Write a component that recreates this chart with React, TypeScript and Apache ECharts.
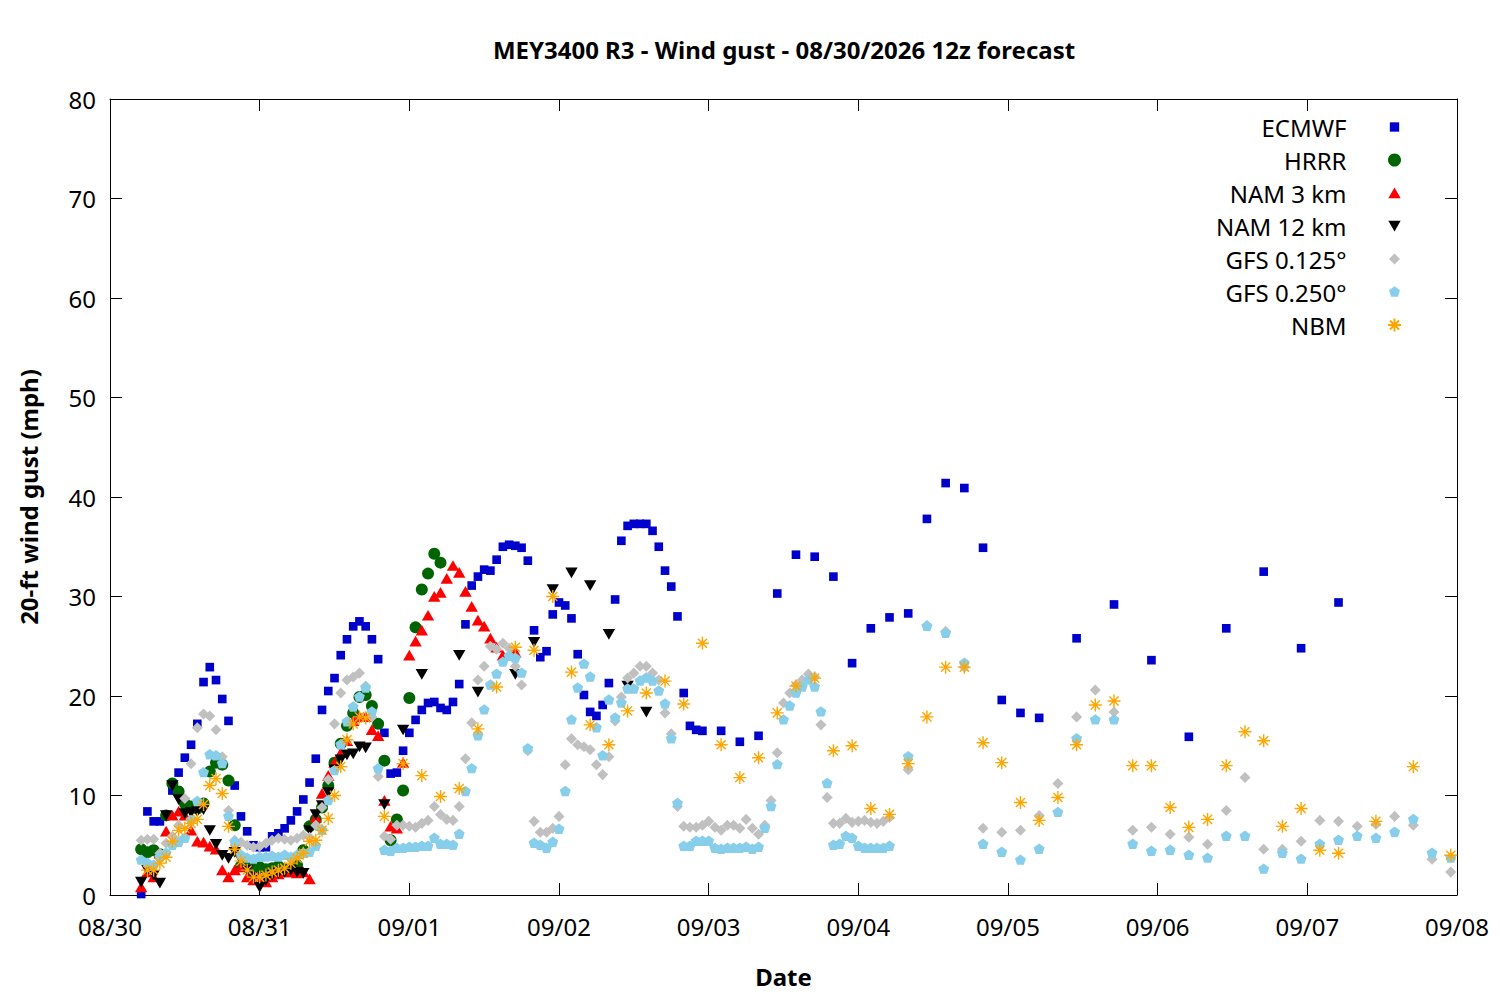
import React, { useEffect, useRef } from "react";
import * as echarts from "echarts";

// hours since 08/30 00:00, value in mph
const DAY_LABELS = ["08/30", "08/31", "09/01", "09/02", "09/03", "09/04", "09/05", "09/06", "09/07", "09/08"];

const ECMWF = [
  [5,0.1],[6,8.4],[7,7.4],[8,7.4],[9,8.0],[10,10.5],[11,12.3],[12,13.8],[13,15.1],[14,17.2],[15,21.4],[16,22.9],[17,21.6],[18,19.7],[19,17.5],[20,11.0],[21,7.9],[22,6.4],[23,5.0],[24,4.8],[25,4.8],[26,5.9],[27,6.2],[28,6.7],[29,7.5],[30,8.4],[31,9.6],[32,11.3],[33,13.7],[34,18.6],[35,20.5],[36,21.8],[37,24.1],[38,25.7],[39,27.0],[40,27.5],[41,27.0],[42,25.7],[43,23.7],[44,16.3],[45,12.2],[46,12.3],[47,14.5],[48,16.3],[49,17.6],[50,18.6],[51,19.3],[52,19.4],[53,18.8],[54,18.6],[55,19.4],[56,21.2],[57,27.2],[58,31.1],[59,32.0],[60,32.7],[61,32.6],[62,33.7],[63,35.0],[64,35.2],[65,35.1],[66,34.9],[67,33.6],[68,26.6],[69,23.9],[70,24.5],[71,28.2],[72,29.4],[73,29.1],[74,27.8],[75,24.2],[76,20.1],[77,18.4],[78,18.0],[79,19.1],[80,21.3],[81,29.7],[82,35.6],[83,37.1],[84,37.3],[85,37.3],[86,37.3],[87,36.6],[88,35.0],[89,32.6],[90,31.0],[91,28.0],[92,20.3],[93,17.0],[94,16.6],[95,16.5],[98,16.5],[101,15.4],[104,16.0],[107,30.3],[110,34.2],[113,34.0],[116,32.0],[119,23.3],[122,26.8],[125,27.9],[128,28.3],[131,37.8],[134,41.4],[137,40.9],[140,34.9],[143,19.6],[146,18.3],[149,17.8],[155,25.8],[161,29.2],[167,23.6],[173,15.9],[179,26.8],[185,32.5],[191,24.8],[197,29.4]
];

const HRRR = [
  [5,4.6],[6,4.3],[7,4.5],[8,4.1],[9,8.0],[10,11.2],[11,10.4],[12,9.2],[13,8.9],[14,8.7],[15,9.2],[16,12.4],[17,13.3],[18,13.1],[19,11.5],[20,7.0],[21,2.9],[22,2.8],[23,2.7],[24,2.8],[25,2.6],[26,2.7],[27,2.9],[28,2.6],[29,2.5],[30,3.0],[31,4.5],[32,6.9],[33,7.6],[34,8.8],[35,11.0],[36,13.3],[37,15.2],[38,17.0],[39,18.3],[40,19.9],[41,20.1],[42,19.0],[43,17.2],[44,13.5],[45,5.5],[46,7.6],[47,10.5],[48,19.8],[49,26.9],[50,30.7],[51,32.3],[52,34.3],[53,33.4]
];

const NAM3 = [
  [5,0.8],[6,2.3],[7,1.8],[8,4.2],[9,6.4],[10,8.0],[11,8.4],[12,8.0],[13,6.5],[14,5.4],[15,5.3],[16,4.9],[17,4.6],[18,2.5],[19,1.8],[20,2.5],[21,2.8],[22,1.8],[23,1.5],[24,1.8],[25,1.3],[26,1.8],[27,2.1],[28,2.3],[29,2.3],[30,2.2],[31,2.3],[32,1.6],[33,7.8],[34,10.2],[35,12.0],[36,13.3],[37,14.3],[38,15.5],[39,17.5],[40,17.9],[41,17.9],[42,16.6],[43,16.0],[44,9.5],[45,6.9],[46,6.7],[47,13.3],[48,24.1],[49,25.5],[50,26.6],[51,28.1],[52,30.0],[53,30.4],[54,31.8],[55,33.1],[56,32.4],[57,30.5],[58,29.0],[59,27.6],[60,27.0],[61,25.8],[62,24.9],[63,24.1],[64,24.2],[65,24.4]
];

const NAM12 = [
  [5,1.3],[6,2.5],[7,2.0],[8,1.2],[9,8.0],[10,11.0],[11,9.6],[12,8.2],[13,8.3],[14,8.4],[15,8.6],[16,6.5],[17,5.1],[18,4.0],[19,3.7],[20,4.3],[21,3.5],[22,2.5],[23,1.8],[24,0.8],[25,1.5],[26,2.0],[27,2.2],[28,2.3],[29,2.5],[30,2.3],[31,2.2],[32,6.5],[33,8.1],[34,9.0],[35,10.3],[36,12.6],[37,13.6],[38,14.1],[39,14.2],[40,14.9],[41,14.8],[44,9.1],[47,16.6],[50,22.2],[56,24.1],[59,20.4],[65,22.2],[68,25.4],[71,30.7],[74,32.4],[77,31.1],[80,26.2],[83,21.0],[86,18.4]
];

const GFS125 = [
  [5,5.5],[6,5.6],[7,5.6],[8,4.2],[9,5.2],[10,5.9],[11,7.0],[12,9.7],[13,13.2],[14,16.8],[15,18.2],[16,18.0],[17,16.6],[18,13.9],[19,8.5],[20,5.5],[21,5.3],[22,5.0],[23,4.8],[24,4.9],[25,5.2],[26,5.5],[27,5.7],[28,5.6],[29,5.5],[30,5.7],[31,6.0],[32,5.8],[33,7.0],[34,8.8],[35,11.6],[36,17.2],[37,20.3],[38,21.6],[39,21.9],[40,22.3],[41,21.0],[42,17.9],[43,11.9],[44,5.9],[45,5.6],[46,7.0],[47,7.0],[48,6.9],[49,6.8],[50,7.2],[51,7.5],[52,8.9],[53,8.1],[54,7.6],[55,7.5],[56,8.9],[57,13.7],[58,17.3],[59,21.6],[60,23.0],[61,25.0],[62,24.7],[63,25.3],[64,24.8],[65,23.0],[66,21.1],[67,14.5],[68,7.4],[69,6.3],[70,6.3],[71,6.7],[72,7.9],[73,13.1],[74,15.7],[75,15.1],[76,14.9],[77,14.6],[78,13.1],[79,12.1],[80,13.9],[81,17.5],[82,19.9],[83,21.8],[84,22.3],[85,23.0],[86,23.0],[87,22.3],[88,21.6],[89,18.3],[90,16.2],[91,8.9],[92,6.9],[93,6.8],[94,6.8],[95,7.0],[96,7.4],[97,6.8],[98,6.5],[99,7.0],[100,7.0],[101,6.7],[102,7.6],[103,6.7],[104,6.1],[105,7.0],[106,9.5],[107,14.3],[108,19.3],[109,20.3],[110,21.1],[111,21.6],[112,22.2],[113,21.9],[114,17.1],[115,9.8],[116,7.2],[117,7.2],[118,7.7],[119,7.3],[120,7.4],[121,7.5],[122,7.3],[123,7.2],[124,7.4],[125,7.8],[128,12.6],[131,27.1],[134,26.5],[137,22.9],[140,6.7],[143,6.3],[146,6.5],[149,8.0],[152,11.2],[155,17.9],[158,20.6],[161,18.4],[164,6.5],[167,6.8],[170,6.1],[173,5.8],[176,5.1],[179,8.5],[182,11.8],[185,4.6],[188,4.6],[191,5.4],[194,7.5],[197,7.4],[200,6.9],[203,7.1],[206,7.9],[209,7.0],[212,3.6],[215,2.3]
];

const GFS250 = [
  [5,3.5],[6,3.2],[7,3.0],[8,3.8],[9,4.2],[10,5.0],[11,5.3],[12,5.7],[13,7.5],[14,9.4],[15,12.3],[16,14.1],[17,14.0],[18,13.2],[19,7.9],[20,5.3],[21,4.0],[22,3.7],[23,3.6],[24,3.8],[25,3.8],[26,3.9],[27,3.8],[28,4.0],[29,3.8],[30,4.0],[31,4.2],[32,4.3],[33,4.9],[34,6.5],[35,9.5],[36,12.5],[37,15.1],[38,17.4],[39,18.9],[40,19.9],[41,20.8],[42,18.4],[43,12.7],[44,4.5],[45,4.4],[46,4.7],[47,4.7],[48,4.8],[49,4.8],[50,4.9],[51,4.9],[52,5.7],[53,5.1],[54,5.1],[55,5.0],[56,6.1],[57,10.4],[58,12.7],[59,16.0],[60,18.6],[61,21.1],[62,22.2],[63,23.4],[64,24.0],[65,23.8],[66,22.3],[67,14.7],[68,5.2],[69,5.0],[70,4.7],[71,5.3],[72,6.6],[73,10.4],[74,17.6],[75,20.8],[76,23.2],[77,21.9],[78,16.8],[79,14.0],[80,19.6],[81,17.8],[82,19.3],[83,20.7],[84,20.7],[85,21.5],[86,21.8],[87,21.5],[88,20.5],[89,19.2],[90,15.7],[91,9.2],[92,4.9],[93,4.9],[94,5.4],[95,5.4],[96,5.4],[97,4.7],[98,4.6],[99,4.7],[100,4.7],[101,4.7],[102,4.8],[103,4.6],[104,4.8],[105,6.7],[106,8.9],[107,13.1],[108,17.6],[109,19.0],[110,20.3],[111,20.9],[112,21.6],[113,20.9],[114,18.4],[115,11.2],[116,5.0],[117,5.1],[118,5.9],[119,5.7],[120,4.9],[121,4.7],[122,4.7],[123,4.7],[124,4.7],[125,4.9],[128,13.9],[131,27.0],[134,26.3],[137,23.3],[140,5.1],[143,4.3],[146,3.5],[149,4.6],[152,8.3],[155,15.7],[158,17.6],[161,17.6],[164,5.1],[167,4.4],[170,4.5],[173,4.0],[176,3.7],[179,5.9],[182,5.9],[185,2.6],[188,4.2],[191,3.6],[194,5.1],[197,5.5],[200,5.9],[203,5.7],[206,6.3],[209,7.6],[212,4.2],[215,3.7]
];

const NBM = [
  [6,2.5],[7,2.5],[8,3.2],[9,3.8],[10,5.4],[11,6.5],[12,6.7],[13,7.2],[14,7.6],[15,9.1],[16,11.0],[17,11.7],[18,10.2],[19,6.9],[20,4.6],[21,3.4],[22,2.5],[23,1.8],[24,1.8],[25,2.0],[26,2.3],[27,2.5],[28,2.7],[29,3.2],[30,3.7],[31,4.2],[32,5.4],[33,5.5],[34,6.5],[35,7.7],[36,10.0],[37,12.9],[38,15.6],[39,17.2],[40,17.9],[41,17.8],[44,7.9],[47,13.2],[50,12.0],[53,9.9],[56,10.7],[59,16.7],[62,20.9],[65,24.9],[68,24.6],[71,30.0],[74,22.4],[77,17.1],[80,15.1],[83,18.5],[86,20.3],[89,21.5],[92,19.2],[95,25.3],[98,15.1],[101,11.8],[104,13.8],[107,18.3],[110,21.0],[113,21.8],[116,14.5],[119,15.0],[122,8.7],[125,8.1],[128,13.2],[131,17.9],[134,22.9],[137,22.9],[140,15.3],[143,13.3],[146,9.3],[149,7.5],[152,9.8],[155,15.1],[158,19.1],[161,19.5],[164,13.0],[167,13.0],[170,8.8],[173,6.8],[176,7.6],[179,13.0],[182,16.4],[185,15.5],[188,6.9],[191,8.7],[194,4.5],[197,4.2],[203,7.4],[209,12.9],[215,4.0]
];

const FONT = "Noto Sans";
const PAD = "M-1,-1M1,1";
const SYM_SQUARE = `path://${PAD}M-0.72,-0.72L0.72,-0.72L0.72,0.72L-0.72,0.72Z`;
const SYM_UP = `path://${PAD}M0,-0.85L0.95,0.8L-0.95,0.8Z`;
const SYM_DOWN = `path://${PAD}M-0.95,-0.8L0.95,-0.8L0,0.85Z`;
const SYM_DIAMOND = `path://${PAD}M0,-0.85L0.85,0L0,0.85L-0.85,0Z`;
const SYM_PENT = `path://${PAD}M0,-0.88L0.84,-0.27L0.52,0.72L-0.52,0.72L-0.84,-0.27Z`;
const SYM_STAR = `path://${PAD}M0,-1L0,1M-1,0L1,0M-0.7,-0.7L0.7,0.7M-0.7,0.7L0.7,-0.7`;

export default function App() {
  const ref = useRef<HTMLDivElement>(null);
  useEffect(() => {
    if (!ref.current) return;
    const chart = echarts.init(ref.current, null, { renderer: "svg" });
    const axisCommon = {
      axisLine: { show: true, onZero: false, lineStyle: { color: "#000", width: 1 } },
      axisTick: { show: true, inside: true, length: 12, lineStyle: { color: "#000", width: 1 } },
      splitLine: { show: false },
    };
    const mk = (name: string, data: number[][], symbol: string, size: number, color: string, extra: any = {}) => ({
      name,
      type: "scatter",
      data,
      symbol,
      symbolSize: size,
      itemStyle: { color, opacity: 1, ...extra },
      emphasis: { disabled: true },
      xAxisIndex: 0,
      yAxisIndex: 0,
    });
    chart.setOption({
      animation: false,
      backgroundColor: "#fff",
      textStyle: { fontFamily: FONT },
      title: {
        text: "MEY3400 R3 - Wind gust - 08/30/2026 12z forecast",
        left: 779,
        top: 32,
        textAlign: "center",
        textStyle: { fontFamily: FONT, fontSize: 24, fontWeight: "bold", color: "#000" },
      },
      legend: {
        orient: "vertical",
        align: "right",
        right: 93,
        top: 110,
        itemWidth: 86,
        itemHeight: 13,
        itemGap: 9,
        selectedMode: false,
        textStyle: { fontFamily: FONT, fontSize: 24, color: "#000" },
        data: ["ECMWF", "HRRR", "NAM 3 km", "NAM 12 km", "GFS 0.125°", "GFS 0.250°", "NBM"],
      },
      grid: { left: 110, right: 43, top: 99, bottom: 105, containLabel: false, outerBoundsMode: "none" },
      xAxis: [
        {
          type: "value",
          position: "bottom",
          min: 0,
          max: 216,
          interval: 24,
          ...axisCommon,
          axisLabel: {
            show: true,
            margin: 19,
            fontSize: 24,
            fontFamily: FONT,
            color: "#000",
            formatter: (v: number) => DAY_LABELS[Math.round(v / 24)] ?? "",
          },
          name: "Date",
          nameLocation: "middle",
          nameGap: 69,
          nameTextStyle: { fontFamily: FONT, fontSize: 24, fontWeight: "bold", color: "#000" },
        },
        {
          type: "value",
          position: "top",
          min: 0,
          max: 216,
          interval: 24,
          ...axisCommon,
          axisLabel: { show: false },
        },
      ],
      yAxis: [
        {
          type: "value",
          position: "left",
          min: 0,
          max: 80,
          interval: 10,
          ...axisCommon,
          axisLabel: { show: true, margin: 14, fontSize: 24, fontFamily: FONT, color: "#000" },
          name: "20-ft wind gust (mph)",
          nameLocation: "middle",
          nameGap: 70,
          nameRotate: 90,
          nameTextStyle: { fontFamily: FONT, fontSize: 24, fontWeight: "bold", color: "#000" },
        },
        {
          type: "value",
          position: "right",
          min: 0,
          max: 80,
          interval: 10,
          ...axisCommon,
          axisLabel: { show: false },
        },
      ],
      series: [
        mk("ECMWF", ECMWF, SYM_SQUARE, 12, "#0000CC"),
        mk("HRRR", HRRR, "circle", 12, "#006400"),
        mk("NAM 3 km", NAM3, SYM_UP, 13, "#FF0000"),
        mk("NAM 12 km", NAM12, SYM_DOWN, 13, "#000000"),
        mk("GFS 0.125°", GFS125, SYM_DIAMOND, 13, "#C0C0C0"),
        mk("GFS 0.250°", GFS250, SYM_PENT, 13, "#87CEEB"),
        mk("NBM", NBM, SYM_STAR, 13, "#FFA500", { borderColor: "#FFA500", borderWidth: 1.4 }),
      ],
    });
    return () => chart.dispose();
  }, []);
  return <div ref={ref} style={{ position: "absolute", left: 0, top: 0, width: 1500, height: 1000 }} />;
}
